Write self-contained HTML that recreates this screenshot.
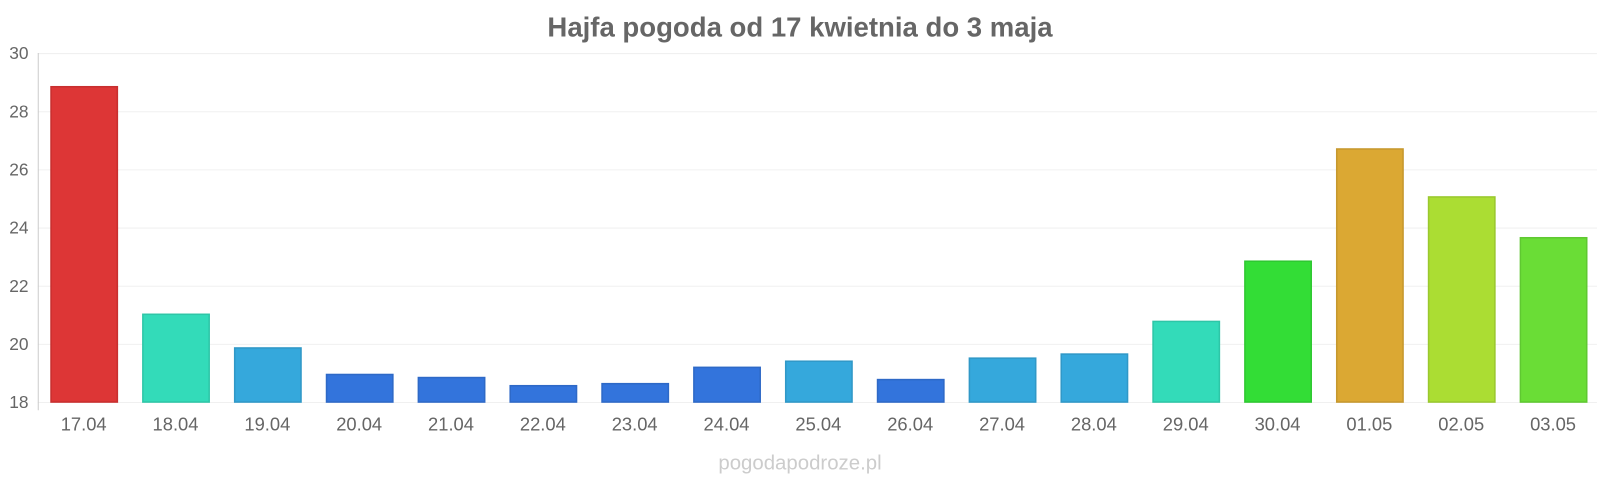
<!DOCTYPE html>
<html><head><meta charset="utf-8"><style>
body{margin:0;background:#fff;width:1600px;height:480px;overflow:hidden}
svg text{font-family:"Liberation Sans",sans-serif}
</style></head><body>
<svg width="1600" height="480" viewBox="0 0 1568 470.4" xmlns="http://www.w3.org/2000/svg">
<text x="784" y="36" text-anchor="middle" font-size="27" font-weight="bold" fill="#666">Hajfa pogoda od 17 kwietnia do 3 maja</text>
<g stroke="#f0f0f0" stroke-width="1">
<line x1="37" x2="1565" y1="52.5" y2="52.5"/><line x1="37" x2="1565" y1="109.5" y2="109.5"/>
<line x1="37" x2="1565" y1="166.5" y2="166.5"/><line x1="37" x2="1565" y1="223.5" y2="223.5"/>
<line x1="37" x2="1565" y1="280.5" y2="280.5"/><line x1="37" x2="1565" y1="337.5" y2="337.5"/>
<line x1="37" x2="1565" y1="394.5" y2="394.5"/>
</g>
<line x1="37.5" x2="37.5" y1="52" y2="402" stroke="#ccc"/>
<g font-size="17" fill="#666" text-anchor="end">
<text x="28" y="58">30</text><text x="28" y="115">28</text><text x="28" y="172">26</text>
<text x="28" y="229">24</text><text x="28" y="286">22</text><text x="28" y="343">20</text><text x="28" y="400">18</text>
</g>
<g stroke-width="1.5">
<rect x="50" y="85" width="65" height="309" fill="#dd3636" stroke="#c82f2f"/>
<rect x="140" y="308" width="65" height="86" fill="#33dbb9" stroke="#2ec6a7"/>
<rect x="230" y="341" width="65" height="53" fill="#35a8dc" stroke="#3098c7"/>
<rect x="320" y="367" width="65" height="27" fill="#3374dc" stroke="#2e69c7"/>
<rect x="410" y="370" width="65" height="24" fill="#3374dc" stroke="#2e69c7"/>
<rect x="500" y="378" width="65" height="16" fill="#3374dc" stroke="#2e69c7"/>
<rect x="590" y="376" width="65" height="18" fill="#3374dc" stroke="#2e69c7"/>
<rect x="680" y="360" width="65" height="34" fill="#3374dc" stroke="#2e69c7"/>
<rect x="770" y="354" width="65" height="40" fill="#35a8dc" stroke="#3098c7"/>
<rect x="860" y="372" width="65" height="22" fill="#3374dc" stroke="#2e69c7"/>
<rect x="950" y="351" width="65" height="43" fill="#35a8dc" stroke="#3098c7"/>
<rect x="1040" y="347" width="65" height="47" fill="#35a8dc" stroke="#3098c7"/>
<rect x="1130" y="315" width="65" height="79" fill="#33dbb9" stroke="#2ec6a7"/>
<rect x="1220" y="256" width="65" height="138" fill="#33dd36" stroke="#2ec831"/>
<rect x="1310" y="146" width="65" height="248" fill="#dba833" stroke="#c6982e"/>
<rect x="1400" y="193" width="65" height="201" fill="#abdd33" stroke="#9ac82e"/>
<rect x="1490" y="233" width="65" height="161" fill="#6add36" stroke="#5fc831"/>
</g>
<g font-size="18" fill="#666" text-anchor="middle">
<text x="82" y="422">17.04</text><text x="172" y="422">18.04</text><text x="262" y="422">19.04</text>
<text x="352" y="422">20.04</text><text x="442" y="422">21.04</text><text x="532" y="422">22.04</text>
<text x="622" y="422">23.04</text><text x="712" y="422">24.04</text><text x="802" y="422">25.04</text>
<text x="892" y="422">26.04</text><text x="982" y="422">27.04</text><text x="1072" y="422">28.04</text>
<text x="1162" y="422">29.04</text><text x="1252" y="422">30.04</text><text x="1342" y="422">01.05</text>
<text x="1432" y="422">02.05</text><text x="1522" y="422">03.05</text>
</g>
<text x="784" y="460" text-anchor="middle" font-size="20" fill="#ccc">pogodapodroze.pl</text>
</svg>
</body></html>
